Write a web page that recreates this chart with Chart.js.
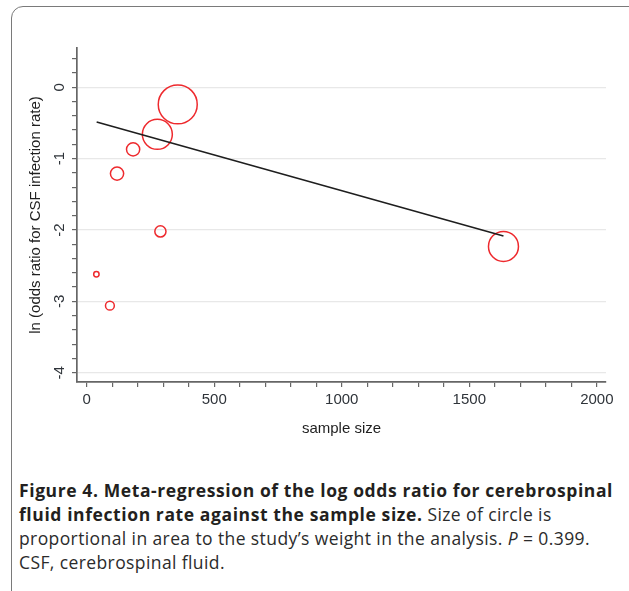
<!DOCTYPE html>
<html>
<head>
<meta charset="utf-8">
<script src="https://cdn.jsdelivr.net/npm/chart.js@4.4.0/dist/chart.umd.min.js"></script>
<style>
  html, body { margin: 0; padding: 0; background: #fff; width: 629px; height: 591px; overflow: hidden; }
  #frame { position: absolute; left: 11px; top: 6px; width: 640px; height: 600px; border: 1.5px solid #7a7a7a; border-radius: 12px; box-sizing: border-box; }
  #wrap { position: absolute; left: 0; top: 0; width: 629px; height: 450px; }
  #caption { position: absolute; left: 19px; top: 478px; width: 620px; font-family: "Open Sans", Lato, sans-serif; font-size: 17.5px; line-height: 24px; color: #2b2b2b; white-space: nowrap; }
  #caption .ln { display: block; }
  #caption b { font-weight: 700; color: #231f20; }
</style>
</head>
<body>
<div id="frame"></div>
<div id="wrap"><canvas id="c" width="629" height="450"></canvas></div>
<div id="caption"><span class="ln" id="l1"><b>Figure 4. Meta-regression of the log odds ratio for cerebrospinal</b></span><span class="ln"><b>fluid infection rate against the sample size.</b> Size of circle is</span><span class="ln" id="l3">proportional in area to the study’s weight in the analysis. <i>P</i> = 0.399.</span><span class="ln">CSF, cerebrospinal fluid.</span></div>
<script>
// Study data
const sampleSize = [38, 91, 119, 182, 277, 289, 357, 1634];
const logOddsRatio = [-2.62, -3.06, -1.21, -0.87, -0.66, -2.02, -0.24, -2.23];
const studyWeight = [0.75, 2.0, 4.5, 4.5, 23.1, 3.2, 39.0, 23.1];
// Fitted regression line endpoints
const fitX = [39, 1634];
const fitY = [-0.487, -2.085];
// Axis ticks
const xTicks = [0,100,200,300,400,500,600,700,800,900,1000,1100,1200,1300,1400,1500,1600,1700,1800,1900,2000];
const xLabels = [0, 500, 1000, 1500, 2000];
const yTicks = [-4,-3.8,-3.6,-3.4,-3.2,-3,-2.8,-2.6,-2.4,-2.2,-2,-1.8,-1.6,-1.4,-1.2,-1,-0.8,-0.6,-0.4,-0.2,0,0.2,0.4];
const yLabels = [-4, -3, -2, -1, 0];

// Fit caption letter-spacing (bold part from line 1, regular part from line 3)
(function () {
  const cap = document.getElementById('caption');
  function measure(el) {
    const probe = document.createElement('span');
    probe.innerHTML = el.innerHTML;
    probe.style.cssText = 'position:absolute;visibility:hidden;white-space:nowrap;letter-spacing:0;';
    cap.appendChild(probe);
    probe.querySelectorAll('b').forEach(b => b.style.letterSpacing = '0');
    const w = probe.getBoundingClientRect().width;
    const n = probe.textContent.length;
    probe.remove();
    return { w, n };
  }
  const a = measure(document.getElementById('l1'));
  const lsBold = Math.max(-1, Math.min(1.5, (594 - a.w) / a.n));
  const b = measure(document.getElementById('l3'));
  const lsReg = Math.max(-1, Math.min(1.5, (571 - b.w) / b.n));
  cap.style.letterSpacing = lsReg.toFixed(3) + 'px';
  cap.querySelectorAll('b').forEach(el => el.style.letterSpacing = lsBold.toFixed(3) + 'px');
})();

const radiusScale = 3.12;
const bubbles = sampleSize.map((x, i) => ({ x: x, y: logOddsRatio[i], r: Math.sqrt(studyWeight[i]) * radiusScale }));
const fitLine = fitX.map((x, i) => ({ x: x, y: fitY[i] }));

const isLabel = (arr, v) => arr.some(a => Math.abs(a - v) < 1e-6);
const font = { family: "'Liberation Sans', Arial, sans-serif", size: 15 };

new Chart(document.getElementById('c'), {
  type: 'bubble',
  data: {
    datasets: [
      {
        type: 'line',
        data: fitLine,
        borderColor: '#1e1e1e',
        borderWidth: 1.6,
        pointRadius: 0,
        fill: false,
        order: 0
      },
      {
        type: 'bubble',
        data: bubbles,
        borderColor: '#ee2a2e',
        backgroundColor: 'rgba(0,0,0,0)',
        borderWidth: 1.5,
        hoverRadius: 0,
        order: 1
      }
    ]
  },
  options: {
    responsive: false,
    animation: false,
    devicePixelRatio: 1,
    layout: { padding: { top: 48, right: 23, left: 0, bottom: 0 } },
    plugins: { legend: { display: false }, tooltip: { enabled: false } },
    scales: {
      x: {
        type: 'linear',
        min: -38,
        max: 2036,
        afterBuildTicks: s => { s.ticks = xTicks.map(v => ({ value: v })); },
        afterFit: s => { s.height = 68; },
        border: { color: '#666', width: 1.7 },
        grid: { drawOnChartArea: false, tickLength: 5, tickColor: '#666', lineWidth: 1.2 },
        ticks: {
          autoSkip: false,
          maxRotation: 0,
          padding: 4,
          color: '#2f343a',
          font: font,
          callback: v => isLabel(xLabels, v) ? String(v) : ''
        },
        title: { display: true, text: 'sample size', color: '#1f1f1f', font: font, padding: { top: 0, bottom: 12 } }
      },
      y: {
        type: 'linear',
        min: -4.13,
        max: 0.55,
        afterBuildTicks: s => { s.ticks = yTicks.map(v => ({ value: v })); },
        afterFit: s => { s.width = 77; },
        border: { color: '#666', width: 1.7 },
        grid: {
          tickLength: 5,
          tickColor: '#666',
          lineWidth: 1.2,
          color: c => (c.tick && isLabel(yLabels, c.tick.value)) ? '#e8e8e8' : 'rgba(0,0,0,0)'
        },
        ticks: {
          autoSkip: false,
          minRotation: 90,
          maxRotation: 90,
          crossAlign: 'center',
          padding: 5,
          color: '#2f343a',
          font: font,
          callback: v => isLabel(yLabels, v) ? String(Math.round(v)) : ''
        },
        title: { display: true, text: 'ln (odds ratio for CSF infection rate)', color: '#1f1f1f', font: font, padding: { top: 27, bottom: 0 } }
      }
    }
  }
});
</script>
</body>
</html>
